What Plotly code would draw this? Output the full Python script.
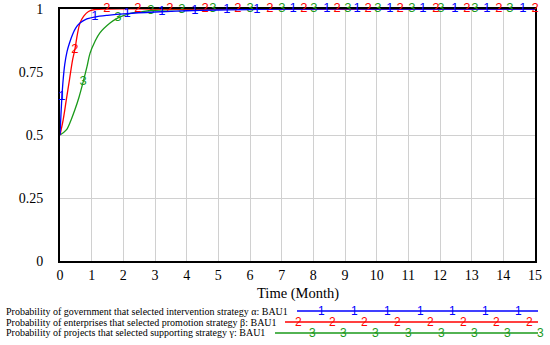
import plotly.graph_objects as go

# ---- data ----
blue_t = [0, 0.03, 0.06, 0.1, 0.15, 0.22, 0.3, 0.4, 0.5, 0.63, 0.8, 1.1, 1.5, 2.12, 3.0, 4.0, 5.0, 6.0, 8.0, 10.0, 12.0, 15.0]
blue_v = [0.5, 0.58, 0.65, 0.72, 0.78, 0.83, 0.865, 0.9, 0.925, 0.944, 0.958, 0.968, 0.975, 0.982, 0.988, 0.993, 0.996, 0.998, 1.0, 1.0, 1.0, 1.0]

red_t = [0, 0.1, 0.2, 0.3, 0.4, 0.47, 0.55, 0.63, 0.75, 0.9, 1.1, 1.5, 3.0, 6.0, 10.0, 15.0]
red_v = [0.5, 0.56, 0.64, 0.72, 0.8, 0.84, 0.9, 0.944, 0.972, 0.99, 0.998, 1.0, 1.0, 1.0, 1.0, 1.0]

green_t = [0, 0.2, 0.35, 0.47, 0.6, 0.73, 0.85, 0.95, 1.1, 1.26, 1.58, 1.83, 2.2, 2.6, 3.0, 4.0, 6.0, 10.0, 15.0]
green_v = [0.5, 0.52, 0.56, 0.6, 0.65, 0.71, 0.77, 0.825, 0.87, 0.905, 0.944, 0.965, 0.982, 0.99, 0.995, 0.999, 1.0, 1.0, 1.0]

blue_mark_t = [0.06, 1.1, 2.12, 3.22, 4.26, 5.27, 6.22, 7.36, 8.43, 9.38, 10.42, 11.46, 12.47, 13.48, 14.62]
blue_mark_v = [0.65, 0.968, 0.982, 0.989, 0.994, 0.996, 0.998, 1.0, 1.0, 1.0, 1.0, 1.0, 1.0, 1.0, 1.0]
red_mark_t = [0.47, 1.48, 2.46, 3.47, 4.58, 5.62, 6.63, 7.70, 8.75, 9.73, 10.74, 11.87, 12.85, 13.86, 15.0]
red_mark_v = [0.84, 1.0, 1.0, 1.0, 1.0, 1.0, 1.0, 1.0, 1.0, 1.0, 1.0, 1.0, 1.0, 1.0, 1.0]
green_mark_t = [0.73, 1.83, 2.87, 3.85, 4.83, 6.0, 7.01, 8.02, 9.09, 10.04, 11.11, 12.03, 13.1, 14.21]
green_mark_v = [0.71, 0.965, 0.993, 0.998, 1.0, 1.0, 1.0, 1.0, 1.0, 1.0, 1.0, 1.0, 1.0, 1.0]

x_ticks = list(range(0, 16))
y_ticks = [0, 0.25, 0.5, 0.75, 1]
y_tick_labels = ["0", "0.25", "0.5", "0.75", "1"]

legend_names = [
    "Probability of government that selected intervention strategy \u03b1: BAU1",
    "Probability of enterprises that selected promotion strategy \u03b2: BAU1",
    "Probability of projects that selected supporting strategy \u03b3: BAU1",
]
series_ids = ["1", "2", "3"]
colors = ["#0000ff", "#ff0000", "#1a9a1a"]
grid_color = "#d0d0d0"

# ---- figure ----
fig = go.Figure()
series = [(green_t, green_v, green_mark_t, green_mark_v, 2),
          (red_t, red_v, red_mark_t, red_mark_v, 1),
          (blue_t, blue_v, blue_mark_t, blue_mark_v, 0)]
for t, v, mt, mv, i in series:
    fig.add_trace(go.Scatter(x=t, y=v, mode="lines", line=dict(color=colors[i], width=1.3, shape="spline"),
                             showlegend=False, cliponaxis=False, hoverinfo="skip"))
    fig.add_trace(go.Scatter(x=mt, y=mv, mode="text", text=[series_ids[i]] * len(mt),
                             textfont=dict(color=colors[i], size=13, family="Liberation Sans"),
                             showlegend=False, cliponaxis=False, hoverinfo="skip"))

W, H = 550, 345
L, R, T, B = 60, 15, 9, 84
pw, ph = W - L - R, H - T - B

def px(x):
    return (x - L) / pw

def py(y):
    return (H - B - y) / ph

shapes = []
annotations = []

# legend rows
leg_rows_y = [311, 322, 333]
leg_line_x0 = [297, 285, 275]
leg_marks = [
    [321, 354, 387, 420, 452, 485, 518],
    [298, 332, 364, 397, 430, 463, 496, 529],
    [312, 343, 375, 408, 441, 474, 507, 540],
]
for i in range(3):
    yy = py(leg_rows_y[i])
    annotations.append(dict(x=px(4), y=yy, xref="paper", yref="paper", text=legend_names[i],
                            showarrow=False, xanchor="left", yanchor="middle",
                            font=dict(family="Liberation Serif", size=10, color="#000000")))
    shapes.append(dict(type="line", xref="paper", yref="paper", x0=px(leg_line_x0[i]), x1=px(538),
                       y0=yy, y1=yy, line=dict(color=colors[i], width=1.3)))
    for mx in leg_marks[i]:
        annotations.append(dict(x=px(mx), y=yy, xref="paper", yref="paper", text=series_ids[i],
                                showarrow=False, xanchor="center", yanchor="middle",
                                font=dict(family="Liberation Sans", size=12, color=colors[i])))

annotations.append(dict(x=0.5, y=py(293), xref="paper", yref="paper", text="Time (Month)",
                        showarrow=False, xanchor="center", yanchor="middle",
                        font=dict(family="Liberation Serif", size=14.5, color="#000000")))

fig.update_layout(
    width=W, height=H,
    margin=dict(l=L, r=R, t=T, b=B, autoexpand=False),
    paper_bgcolor="white", plot_bgcolor="white",
    shapes=shapes, annotations=annotations,
    xaxis=dict(range=[0, 15], tickvals=x_ticks, showgrid=True, gridcolor=grid_color, gridwidth=1.2,
               showline=True, linecolor="black", linewidth=2, mirror=True, zeroline=False,
               ticks="", tickfont=dict(family="Liberation Serif", size=14, color="#000000"),
               layer="below traces", automargin=False),
    yaxis=dict(range=[0, 1], tickvals=y_ticks, ticktext=y_tick_labels, showgrid=True,
               gridcolor=grid_color, gridwidth=1.2, showline=True, linecolor="black", linewidth=2,
               mirror=True, zeroline=False, ticks="", ticklabelstandoff=12,
               tickfont=dict(family="Liberation Serif", size=14, color="#000000"),
               layer="below traces", automargin=False),
)

fig.write_html("out.html", config={"displayModeBar": False},
               post_script="document.body.style.margin='0';document.body.style.padding='0';")
